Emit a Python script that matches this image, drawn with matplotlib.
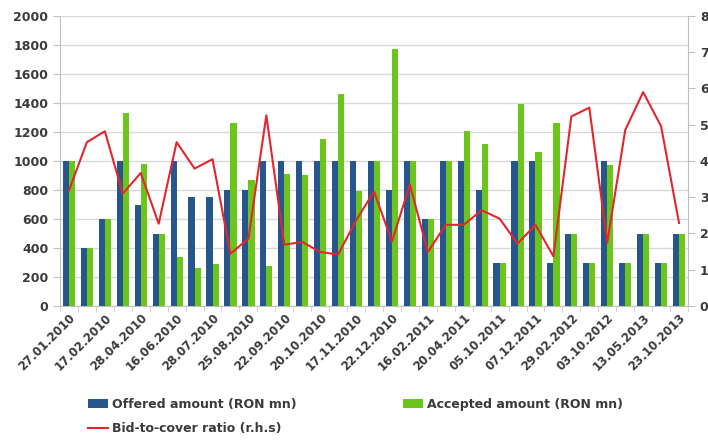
import matplotlib
matplotlib.use("Agg")
import matplotlib.pyplot as plt
import numpy as np
from matplotlib.patches import Patch
from matplotlib.lines import Line2D

tick_labels = ["27.01.2010", "17.02.2010", "28.04.2010", "16.06.2010", "28.07.2010",
               "25.08.2010", "22.09.2010", "20.10.2010", "17.11.2010", "22.12.2010",
               "16.02.2011", "20.04.2011", "05.10.2011", "07.12.2011", "29.02.2012",
               "03.10.2012", "13.05.2013", "23.10.2013"]

offered = [1000, 400, 600, 1000, 700, 500, 1000, 750, 750, 800, 800, 1000,
           1000, 1000, 1000, 1000, 1000, 1000, 800, 1000, 600, 1000, 1000, 800,
           300, 1000, 1000, 300, 500, 300, 1000, 300, 500, 300, 500]
accepted = [1000, 400, 600, 1330, 980, 500, 340, 265, 290, 1260, 870, 275,
            910, 900, 1150, 1460, 790, 1000, 1770, 1000, 600, 1000, 1210, 1120,
            300, 1390, 1060, 1260, 500, 300, 970, 300, 500, 300, 500]
bid_to_cover = [3.19, 4.52, 4.82, 3.10, 3.67, 2.27, 4.52, 3.79, 4.05, 1.44, 1.86, 5.26,
                1.69, 1.77, 1.49, 1.42, 2.36, 3.16, 1.78, 3.35, 1.49, 2.24, 2.24, 2.64,
                2.41, 1.72, 2.24, 1.37, 5.23, 5.47, 1.75, 4.85, 5.90, 4.96, 2.29]

BLUE = "#27568F"
GREEN = "#6CC51A"
RED = "#E3262E"
TXT = "#3a3a3a"

fig = plt.figure(figsize=(7.08, 4.48), dpi=100)
ax = fig.add_axes([60/708, (448-306)/448, 628/708, 290/448])

n = len(offered)
x = np.arange(n)
w = 0.34
ax.bar(x - w/2, offered, width=w, color=BLUE, zorder=3)
ax.bar(x + w/2, accepted, width=w, color=GREEN, zorder=3)

ax.set_xlim(-0.5, n - 0.5)
ax.set_ylim(0, 2000)
ax.set_yticks(np.arange(0, 2001, 200))
ax.yaxis.grid(True, color="#d9d9d9", linewidth=1, zorder=0)
ax.set_xticks(x[::2])
ax.set_xticks(np.arange(-0.5, n, 1), minor=True)
ax.set_xticklabels(tick_labels, rotation=45, ha="right", rotation_mode="anchor",
                   fontsize=8.5, fontweight="bold", color=TXT)
ax.tick_params(axis="x", which="major", length=0, pad=4)
ax.tick_params(axis="x", which="minor", length=4, color="#d0d0d0")
ax.tick_params(axis="y", labelsize=9, colors=TXT, length=5, color="#bfbfbf")
for lab in ax.get_yticklabels():
    lab.set_fontweight("bold")
for s in ["top", "right"]:
    ax.spines[s].set_visible(False)
ax.spines["left"].set_color("#bfbfbf")
ax.spines["bottom"].set_color("#bfbfbf")

ax2 = ax.twinx()
ax2.plot(x, bid_to_cover, color=RED, linewidth=1.5, zorder=4)
ax2.set_ylim(0, 8)
ax2.set_yticks(range(0, 9))
ax2.tick_params(axis="y", labelsize=9, colors=TXT, length=5, color="#bfbfbf")
for lab in ax2.get_yticklabels():
    lab.set_fontweight("bold")
for s in ["top", "left", "bottom"]:
    ax2.spines[s].set_visible(False)
ax2.spines["right"].set_color("#bfbfbf")

legend_font = {"size": 9, "weight": "bold"}
entries = [
    (Patch(facecolor=BLUE), "Offered amount (RON mn)", (88, 398)),
    (Patch(facecolor=GREEN), "Accepted amount (RON mn)", (403, 398)),
    (Line2D([], [], color=RED, linewidth=1.5), "Bid-to-cover ratio (r.h.s)", (88, 422)),
]
for h, lbl, (px, py) in entries:
    leg = fig.legend([h], [lbl], loc="upper left",
                     bbox_to_anchor=(px/708, 1 - py/448), frameon=False,
                     prop=legend_font, handlelength=1.6, handletextpad=0.3,
                     borderpad=0, borderaxespad=0)
    for t in leg.get_texts():
        t.set_color(TXT)

fig.savefig("out.png", dpi=100)
